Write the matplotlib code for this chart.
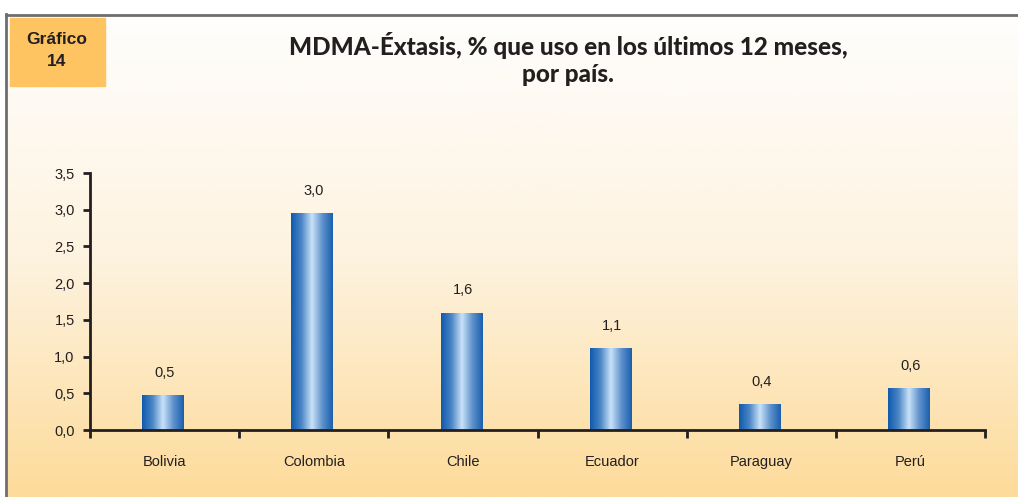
"""Recreate Grafico 14: MDMA-Extasis use in the last 12 months, by country."""

import matplotlib.pyplot as plt
import numpy as np
from matplotlib.colors import LinearSegmentedColormap
from matplotlib.patches import Rectangle

countries = ["Bolivia", "Colombia", "Chile", "Ecuador", "Paraguay", "Perú"]
values = [0.47, 2.95, 1.60, 1.11, 0.35, 0.57]
value_labels = ["0,5", "3,0", "1,6", "1,1", "0,4", "0,6"]
y_ticks = [0.0, 0.5, 1.0, 1.5, 2.0, 2.5, 3.0, 3.5]
y_tick_labels = ["0,0", "0,5", "1,0", "1,5", "2,0", "2,5", "3,0", "3,5"]

plt.rcParams["font.family"] = ["Liberation Sans", "DejaVu Sans"]
TEXT = "#231F20"

fig = plt.figure(figsize=(10.18, 4.97), dpi=100)

# background panel with vertical gradient and grey frame
bg = fig.add_axes([0, 0, 1, 1], zorder=-10)
bg.set_xlim(0, 1018)
bg.set_ylim(497, 0)
bg.axis("off")
bg_cmap = LinearSegmentedColormap.from_list("bg", ["#FEFEFD", "#FEF3E0", "#FDDB9A"])
grad = np.linspace(0, 1, 256).reshape(-1, 1)
bg.imshow(grad, cmap=bg_cmap, extent=(6, 1018, 497, 14), aspect="auto")
bg.plot([6, 1018], [14.5, 14.5], color="#6E6E6E", lw=2)
bg.plot([6.5, 6.5], [14, 497], color="#6E6E6E", lw=2)
bg.add_patch(Rectangle((10, 18), 95, 68, color="#FEC461"))
bg.text(57, 40, "Gráfico", ha="center", va="center", fontsize=12.5,
        fontweight="bold", color=TEXT)
bg.text(57, 62, "14", ha="center", va="center", fontsize=12.5,
        fontweight="bold", color=TEXT)
bg.text(568, 59, "MDMA-Éxtasis, % que uso en los últimos 12 meses,\npor país.",
        ha="center", va="center", fontsize=17.5, fontweight="black", color=TEXT,
        family=["Lato", "DejaVu Sans"], linespacing=1.25)

ax = fig.add_axes([90 / 1018, 1 - 430 / 497, 895 / 1018, 257 / 497])
ax.patch.set_alpha(0)
x = np.arange(len(countries))
ax.set_xlim(-0.5, len(countries) - 0.5)
ax.set_ylim(0, 3.5)

bar_cmap = LinearSegmentedColormap.from_list(
    "bar", ["#0F5AAE", "#4C86C6", "#C9E2F8", "#5F92CC", "#1A5FAE"])
bar_grad = np.linspace(0, 1, 128).reshape(1, -1)
width = 0.28
bars = ax.bar(x - 0.01, values, width=width, color="none", edgecolor="none", zorder=2)
for bar in bars:
    x0 = bar.get_x()
    img = ax.imshow(bar_grad, cmap=bar_cmap, aspect="auto", zorder=2,
                    extent=(x0, x0 + bar.get_width(), 0, bar.get_height()))
    img.set_clip_path(bar)

for xi, v, lab in zip(x, values, value_labels):
    ax.text(xi, v + 0.21, lab, ha="center", va="bottom", fontsize=10.5, color=TEXT)

ax.spines["top"].set_visible(False)
ax.spines["right"].set_visible(False)
for side in ("left", "bottom"):
    ax.spines[side].set_linewidth(2)
    ax.spines[side].set_color(TEXT)

ax.set_yticks(y_ticks)
ax.set_yticklabels(y_tick_labels, fontsize=10.5, color=TEXT)
ax.set_xticks(np.arange(len(countries) + 1) - 0.5)
ax.set_xticklabels([])
ax.set_xticks(x, minor=True)
ax.set_xticklabels(countries, minor=True, fontsize=10.5, color=TEXT)
ax.tick_params(axis="y", length=5, width=2, color=TEXT, pad=6)
ax.tick_params(axis="x", which="major", length=6, width=2, color=TEXT)
ax.tick_params(axis="x", which="minor", length=0, pad=18)

fig.savefig("out.png", dpi=100)
